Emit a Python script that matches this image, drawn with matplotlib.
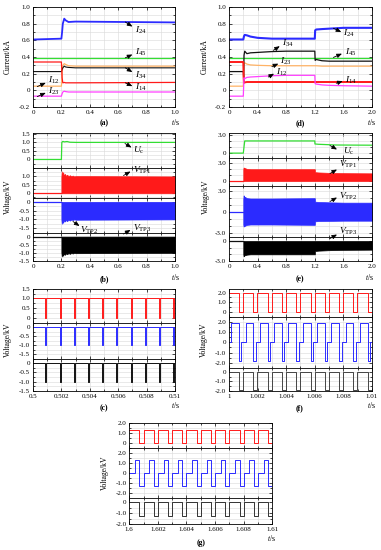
import numpy as np
import matplotlib
matplotlib.use('Agg')
import matplotlib.pyplot as plt
from matplotlib.ticker import MultipleLocator

W, H = 381, 550
plt.rcParams['font.family'] = ['Liberation Serif', 'DejaVu Serif']
plt.rcParams['mathtext.fontset'] = 'custom'
plt.rcParams['mathtext.rm'] = 'Liberation Serif'
plt.rcParams['mathtext.it'] = 'Liberation Serif:italic'

# ---------------- data ----------------
# (a) currents 0-1 s
ta = [0, 0.2, 0.205, 0.21, 0.22, 0.23, 0.25, 0.3, 1.0]
a_I24 = [0.61, 0.62, 0.70, 0.80, 0.86, 0.84, 0.82, 0.825, 0.815]
a_I45 = [0.39, 0.39, 0.39, 0.39, 0.39, 0.39, 0.39, 0.39, 0.39]
a_I34 = [0.225, 0.225, 0.25, 0.27, 0.29, 0.28, 0.275, 0.27, 0.27]
a_I12 = [0.05, 0.05, 0.20, 0.30, 0.32, 0.31, 0.295, 0.29, 0.29]
a_I14 = [0.34, 0.34, 0.15, 0.09, 0.095, 0.09, 0.09, 0.09, 0.095]
a_I23 = [-0.07, -0.07, -0.04, -0.02, -0.01, -0.015, -0.02, -0.02, -0.02]

# (d) currents 0-2 s
td = [0, 0.2, 0.205, 0.21, 0.22, 0.25, 0.3, 0.4, 0.6, 0.8, 1.2, 1.205, 1.22, 1.3, 1.4, 1.6, 2.0]
d_I24 = [0.61, 0.61, 0.63, 0.65, 0.665, 0.66, 0.645, 0.63, 0.62, 0.62, 0.62, 0.72, 0.73, 0.735, 0.74, 0.75, 0.75]
d_I34 = [0.225, 0.225, 0.15, 0.42, 0.47, 0.44, 0.45, 0.455, 0.465, 0.47, 0.47, 0.36, 0.37, 0.355, 0.35, 0.35, 0.35]
d_I45 = [0.39] * 17
d_I23 = [0.05, 0.05, 0.20, 0.32, 0.33, 0.315, 0.305, 0.30, 0.295, 0.295, 0.295, 0.295, 0.295, 0.29, 0.29, 0.29, 0.29]
d_I14 = [0.34, 0.34, 0.15, 0.09, 0.095, 0.10, 0.10, 0.10, 0.10, 0.10, 0.10, 0.10, 0.10, 0.10, 0.10, 0.10, 0.10]
d_I12 = [-0.07, -0.07, 0.05, 0.15, 0.14, 0.155, 0.16, 0.165, 0.175, 0.18, 0.18, 0.08, 0.075, 0.065, 0.06, 0.055, 0.05]

# (b) voltages 0-1 s
tb_uc = [0, 0.2, 0.203, 0.21, 0.22, 0.24, 0.26, 0.3, 1.0]
b_uc = [0, 0, 1.0, 1.06, 1.03, 1.05, 1.01, 1.0, 1.0]
tb_pre = [0, 0.2]
tb_env = [0.2, 0.203, 0.207, 0.212, 0.218, 0.225, 0.232, 0.24, 0.25, 0.26, 0.27, 0.28, 0.29, 0.3, 1.0]
b_v1_hi = [1.0, 1.3, 1.05, 1.25, 1.05, 1.15, 1.03, 1.1, 1.02, 1.07, 1.01, 1.05, 1.0, 1.02, 1.0]
b_v2_lo = [-1.0, -1.25, -1.05, -1.2, -1.05, -1.12, -1.03, -1.1, -1.02, -1.07, -1.01, -1.04, -1.0, -1.02, -1.0]
b_v3_lo = [-1.0, -1.22, -1.05, -1.18, -1.04, -1.12, -1.03, -1.08, -1.02, -1.06, -1.01, -1.04, -1.0, -1.02, -1.0]

# (e) voltages 0-2 s
te_uc = [0, 0.2, 0.22, 0.25, 1.2, 1.202, 1.25, 1.4, 1.5, 2.0]
e_uc = [0, 0, 2.0, 2.0, 2.0, 1.5, 1.45, 1.38, 1.33, 1.3]
te_pre = [0, 0.2]
te_env = [0.2, 0.205, 0.21, 0.22, 0.25, 0.3, 0.6, 1.2, 1.202, 1.25, 1.4, 1.6, 2.0]
e_v1_hi = [2.0, 2.3, 2.1, 2.2, 2.05, 2.0, 2.0, 2.0, 1.5, 1.45, 1.38, 1.33, 1.3]
e_v2_hi = [1.9, 2.4, 2.1, 2.2, 2.0, 1.95, 1.95, 2.0, 1.5, 1.45, 1.4, 1.35, 1.35]
e_v2_lo = [-1.8, -2.1, -1.9, -2.0, -1.85, -1.8, -1.8, -1.85, -1.35, -1.3, -1.28, -1.25, -1.25]
e_v3_lo = [-2.0, -2.3, -2.1, -2.15, -2.05, -2.0, -2.0, -2.0, -1.5, -1.45, -1.38, -1.33, -1.3]

# (c)/(f)/(g) switching waveforms: one period pattern (phase edges, level per interval)
c_start, c_period, c_n = 0.5, 0.001, 10
c_phase = [0, 0.87, 0.95, 1.0]
c_v1 = [1.0, 0.0, 1.0]
c_v2 = [0.0, -1.0, 0.0]
c_v3 = [0.0, -1.0, 0.0]

f_start, f_period, f_n = 1.0, 0.001, 10
f_phase = [0, 0.16, 0.70, 0.87, 0.98, 1.0]
f_v1 = [1.9, 1.9, 0.0, 0.0, 1.9]
f_v2 = [0.0, 1.9, -1.85, 0.0, 0.0]
f_v3 = [0.0, 0.0, -1.9, -1.9, 0.0]

g_start, g_period, g_n = 1.6, 0.001, 10
g_phase = [0, 0.40, 0.71, 1.0]
g_v1 = [1.3, 1.3, 0.0]
g_v2 = [0.0, 1.3, -1.3]
g_v3 = [0.0, 0.0, -1.3]

RED, BLUE, GREEN, ORANGE, MAG, BLACK = '#ff1a1a', '#2b2bff', '#33dd33', '#ffb366', '#ff40ff', '#111111'

fig = plt.figure(figsize=(W / 100, H / 100), dpi=100)


def rect(l, r, t, b):
    return [l / W, 1 - b / H, (r - l) / W, (b - t) / H]


def px(x, y):
    return (x / W, 1 - y / H)


def fmt(v):
    return '0' if abs(v) < 1e-9 else ('%.1f' % v)


def style(ax, xlim, xmaj, xmin, ylim, yticks, ymin, xlabels=None):
    ax.set_xlim(*xlim)
    ax.set_ylim(*ylim)
    ax.xaxis.set_major_locator(MultipleLocator(xmaj))
    ax.xaxis.set_minor_locator(MultipleLocator(xmin))
    ax.set_yticks(yticks)
    ax.set_yticklabels([fmt(v) for v in yticks])
    ax.yaxis.set_minor_locator(MultipleLocator(ymin))
    ax.grid(which='both', color='#d9d9d9', lw=0.4)
    ax.set_axisbelow(True)
    ax.tick_params(which='both', direction='in', top=True, right=True,
                   labelsize=5, width=0.5, pad=2)
    ax.tick_params(which='major', length=2.2)
    ax.tick_params(which='minor', length=1.2)
    for s in ax.spines.values():
        s.set_linewidth(0.6)
    if xlabels is None:
        ax.tick_params(labelbottom=False)
    else:
        ax.set_xticks(xlabels[0])
        ax.set_xticklabels(xlabels[1])


def arrow(ax, tail, head, coords='data'):
    ax.annotate('', xy=head, xytext=tail, xycoords=coords, textcoords=coords,
                annotation_clip=False,
                arrowprops=dict(arrowstyle='-|>,head_length=0.6,head_width=0.25',
                                mutation_scale=5, color='k', lw=0.6,
                                shrinkA=0, shrinkB=0))


def pattern(start, period, n, phase, levels):
    t, y = [], []
    for k in range(n):
        for i, lv in enumerate(levels):
            t.append(start + period * (k + phase[i]))
            y.append(lv)
    t.append(start + period * n)
    y.append(levels[-1])
    return t, y


LBL = dict(fontsize=6.8, va='center', ha='left')

# ---------------- (a) ----------------
axa = fig.add_axes(rect(33, 175, 7, 107))
for y, c, lw in [(a_I24, BLUE, 1.3), (a_I45, GREEN, 0.9), (a_I12, ORANGE, 0.9),
                 (a_I34, BLACK, 0.8), (a_I14, RED, 0.9), (a_I23, MAG, 0.9)]:
    axa.plot(ta, y, color=c, lw=lw)
style(axa, (0, 1.0), 0.2, 0.1, (-0.2, 1.0), [-0.2, 0, 0.2, 0.4, 0.6, 0.8, 1.0], 0.1,
      ([0, 0.2, 0.4, 0.6, 0.8, 1.0], ['0', '0.2', '0.4', '0.6', '0.8', '1.0']))
for txt, tp, tl, hd in [('$I_{24}$', (0.72, 0.72), (0.65, 0.82), (0.70, 0.765)),
                        ('$I_{45}$', (0.72, 0.45), (0.65, 0.39), (0.70, 0.43)),
                        ('$I_{34}$', (0.72, 0.18), (0.65, 0.27), (0.70, 0.22)),
                        ('$I_{14}$', (0.72, 0.03), (0.65, 0.09), (0.70, 0.05)),
                        ('$I_{12}$', (0.105, 0.12), (0.03, 0.045), (0.09, 0.09)),
                        ('$I_{23}$', (0.105, -0.01), (0.03, -0.075), (0.09, -0.03))]:
    axa.text(*tp, txt, **LBL)
    arrow(axa, tl, hd)

# ---------------- (d) ----------------
axd = fig.add_axes(rect(229, 372, 7, 107))
for y, c, lw in [(d_I24, BLUE, 1.5), (d_I45, GREEN, 0.9), (d_I23, ORANGE, 0.9),
                 (d_I34, BLACK, 0.9), (d_I14, RED, 1.4), (d_I12, MAG, 0.9)]:
    axd.plot(td, y, color=c, lw=lw)
style(axd, (0, 2.0), 0.4, 0.2, (-0.2, 1.0), [-0.2, 0, 0.2, 0.4, 0.6, 0.8, 1.0], 0.1,
      ([0, 0.4, 0.8, 1.2, 1.6, 2.0], ['0', '0.4', '0.8', '1.2', '1.6', '2.0']))
for txt, tp, tl, hd in [('$I_{24}$', (1.60, 0.68), (1.46, 0.745), (1.57, 0.70)),
                        ('$I_{34}$', (0.74, 0.565), (0.62, 0.48), (0.71, 0.53)),
                        ('$I_{45}$', (1.62, 0.46), (1.46, 0.395), (1.58, 0.44)),
                        ('$I_{23}$', (0.72, 0.35), (0.60, 0.285), (0.69, 0.32)),
                        ('$I_{12}$', (0.66, 0.22), (0.55, 0.16), (0.63, 0.20)),
                        ('$I_{14}$', (1.62, 0.125), (1.50, 0.085), (1.59, 0.11))]:
    axd.text(*tp, txt, **LBL)
    arrow(axd, tl, hd)


def stacked(l, r, subs, xlim, xmaj, xmin, xlabels):
    axes = []
    for i, (t, b, ylim, yt, ym) in enumerate(subs):
        ax = fig.add_axes(rect(l, r, t, b))
        last = i == len(subs) - 1
        style(ax, xlim, xmaj, xmin, ylim, yt, ym, xlabels if last else None)
        axes.append(ax)
    return axes


# ---------------- (b) ----------------
bsubs = [(133, 168, (-0.5, 1.55), [0, 0.5, 1.0, 1.5], 0.25),
         (168, 197.5, (-0.25, 1.5), [0, 0.5, 1.0], 0.25),
         (197.5, 232.5, (-1.75, 0.25), [0, -0.5, -1.0, -1.5], 0.25),
         (232.5, 261, (-1.5, 0.25), [0, -0.5, -1.0, -1.5], 0.25)]
xb = ([0, 0.2, 0.4, 0.6, 0.8, 1.0], ['0', '0.2', '0.4', '0.6', '0.8', '1.0'])
b0, b1, b2, b3 = stacked(33, 175, bsubs, (0, 1.0), 0.2, 0.1, xb)
b0.plot(tb_uc, b_uc, color=GREEN, lw=0.9)
b1.plot(tb_pre, [0, 0], color=RED, lw=0.9)
b1.fill_between(tb_env, 0, b_v1_hi, color=RED, lw=0.5, edgecolor=RED)
b2.plot(tb_pre, [0, 0], color=BLUE, lw=0.9)
b2.fill_between(tb_env, b_v2_lo, 0, color=BLUE, lw=0.5, edgecolor=BLUE)
b3.plot(tb_pre, [0, 0], color=BLACK, lw=0.9)
b3.fill_between(tb_env, b_v3_lo, 0, color='k', lw=0.5, edgecolor='k')
for txt, tp, tl, hd in [('$U_{\\mathrm{c}}$', (133, 150), (125, 143.5), (131.5, 147.5)),
                        ('$V_{\\mathrm{TP1}}$', (133, 170), (123.5, 175.5), (130.5, 171.5)),
                        ('$V_{\\mathrm{TP2}}$', (80, 230), (73, 221.5), (79.5, 226)),
                        ('$V_{\\mathrm{TP3}}$', (133, 228), (123.5, 234), (130.5, 230))]:
    fig.text(*px(*tp), txt, **LBL)
    arrow(b3, px(*tl), px(*hd), coords='figure fraction')

# ---------------- (e) ----------------
esubs = [(133, 158, (-0.8, 3.3), [0, 3.0], 1.0),
         (158, 186, (-0.85, 3.9), [0, 3.0], 1.0),
         (186, 237, (-3.6, 3.75), [3.0, 0, -3.0], 1.0),
         (237, 261, (-3.0, 0.6), [0, -3.0], 1.0)]
xe = ([0, 0.4, 0.8, 1.2, 1.6, 2.0], ['0', '0.4', '0.8', '1.2', '1.6', '2.0'])
e0, e1, e2, e3 = stacked(229, 372, esubs, (0, 2.0), 0.4, 0.2, xe)
e0.plot(te_uc, e_uc, color=GREEN, lw=0.9)
e1.plot(te_pre, [0, 0], color=RED, lw=0.9)
e1.fill_between(te_env, 0, e_v1_hi, color=RED, lw=0.5, edgecolor=RED)
e2.plot(te_pre, [0, 0], color=BLUE, lw=0.9)
e2.fill_between(te_env, e_v2_lo, e_v2_hi, color=BLUE, lw=0.5, edgecolor=BLUE)
e3.plot(te_pre, [0, 0], color=BLACK, lw=0.9)
e3.fill_between(te_env, e_v3_lo, 0, color='k', lw=0.5, edgecolor='k')
for txt, tp, tl, hd in [('$U_{\\mathrm{c}}$', (343, 151), (330, 145.5), (337, 149.5)),
                        ('$V_{\\mathrm{TP1}}$', (339, 164.5), (330, 173.5), (337, 169.5)),
                        ('$V_{\\mathrm{TP2}}$', (339, 196), (330, 201.5), (337, 197.5)),
                        ('$V_{\\mathrm{TP3}}$', (339, 231.5), (330, 238.5), (337, 234.5))]:
    fig.text(*px(*tp), txt, **LBL)
    arrow(e3, px(*tl), px(*hd), coords='figure fraction')

# ---------------- (c) ----------------
csubs = [(288.7, 322.5, (-0.25, 1.5), [0, 0.5, 1.0, 1.5], 0.25),
         (322.5, 358.5, (-1.75, 0.25), [0, -0.5, -1.0, -1.5], 0.25),
         (358.5, 391, (-1.5, 0.25), [0, -0.5, -1.0, -1.5], 0.25)]
xc = ([0.5, 0.502, 0.504, 0.506, 0.508, 0.51], ['0.5', '0.502', '0.504', '0.506', '0.508', '0.51'])
c0, c1, c2 = stacked(33, 175, csubs, (0.5, 0.51), 0.002, 0.001, xc)
for ax, lv, col in [(c0, c_v1, RED), (c1, c_v2, BLUE), (c2, c_v3, BLACK)]:
    t, y = pattern(c_start, c_period, c_n, c_phase, lv)
    ax.step(t, y, where='post', color=col, lw=0.7)

# ---------------- (f) ----------------
fsubs = [(288.7, 316.5, (-0.5, 2.4), [0, 1.0, 2.0], 0.5),
         (316.5, 368, (-2.5, 2.5), [2.0, 1.0, 0, -1.0, -2.0], 0.5),
         (368, 391, (-2.0, 0.4), [0, -1.0, -2.0], 0.5)]
xf = ([1.0, 1.002, 1.004, 1.006, 1.008, 1.01], ['1', '1.002', '1.004', '1.006', '1.008', '1.01'])
f0, f1, f2 = stacked(229, 372, fsubs, (1.0, 1.01), 0.002, 0.001, xf)
for ax, lv, col in [(f0, f_v1, RED), (f1, f_v2, BLUE), (f2, f_v3, '#444444')]:
    t, y = pattern(f_start, f_period, f_n, f_phase, lv)
    ax.step(t, y, where='post', color=col, lw=0.7)

# ---------------- (g) ----------------
gsubs = [(422.7, 448, (-0.5, 2.05), [0, 1.0, 2.0], 0.5),
         (448, 497.5, (-2.5, 2.5), [2.0, 1.0, 0, -1.0, -2.0], 0.5),
         (497.5, 524, (-2.0, 0.45), [0, -1.0, -2.0], 0.5)]
xg = ([1.6, 1.602, 1.604, 1.606, 1.608, 1.61], ['1.6', '1.602', '1.604', '1.606', '1.608', '1.61'])
g0, g1, g2 = stacked(129.3, 272.3, gsubs, (1.6, 1.61), 0.002, 0.001, xg)
for ax, lv, col in [(g0, g_v1, RED), (g1, g_v2, BLUE), (g2, g_v3, '#333333')]:
    t, y = pattern(g_start, g_period, g_n, g_phase, lv)
    ax.step(t, y, where='post', color=col, lw=0.7)

# ---------------- labels ----------------
YL = dict(fontsize=5.5, rotation=90, ha='center', va='center')
fig.text(*px(8, 57), 'Current/kA', **YL)
fig.text(*px(205, 57), 'Current/kA', **YL)
fig.text(*px(8, 197), 'Voltage/kV', **YL)
fig.text(*px(206, 197), 'Voltage/kV', **YL)
fig.text(*px(8, 340), 'Voltage/kV', **YL)
fig.text(*px(204, 340), 'Voltage/kV', **YL)
fig.text(*px(105, 473), 'Voltage/kV', **YL)

CAP = dict(fontsize=5.5, ha='center', va='center', fontweight='bold')
TS = dict(fontsize=5.5, ha='center', va='center')
for cap, cx, cy, tx, ty in [('(a)', 104, 123, 175, 122.5), ('(d)', 300, 123, 371, 122.5),
                            ('(b)', 104, 279, 175, 277), ('(e)', 300, 279, 369, 277),
                            ('(c)', 104, 408.5, 175, 405), ('(f)', 300, 408.5, 371, 405),
                            ('(g)', 201, 543, 271, 538)]:
    fig.text(*px(cx, cy), cap, **CAP)
    fig.text(*px(tx, ty), '$t$/s', **TS)

fig.savefig('out.png', dpi=100)
